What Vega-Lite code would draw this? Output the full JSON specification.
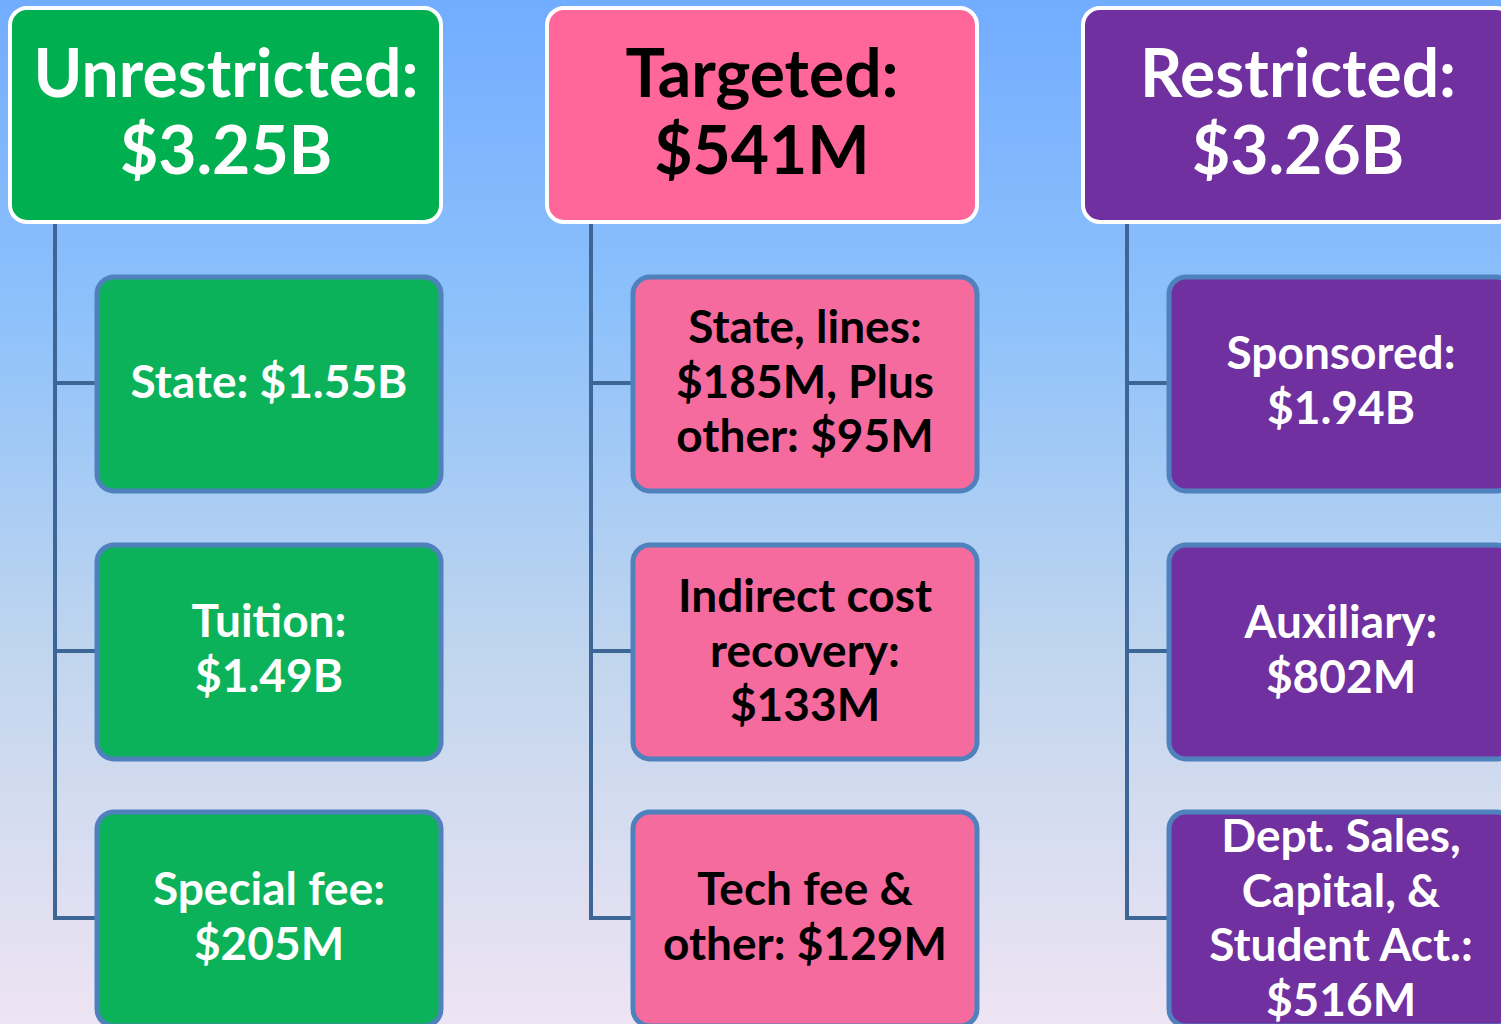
{
  "$schema": "https://vega.github.io/schema/vega-lite/v6.json",
  "width": 1501,
  "height": 1024,
  "autosize": {"type": "fit", "contains": "padding"},
  "padding": 0,
  "background": "#ffffff",
  "config": {"view": {"stroke": null}},
  "datasets": {
    "bg": [{"x0": 0, "x1": 1501, "y0": 0, "y1": 1024}],
    "links": [
      {"x0": 55, "x1": 55, "y0": 222, "y1": 918},
      {"x0": 55, "x1": 97, "y0": 383, "y1": 383},
      {"x0": 55, "x1": 97, "y0": 651, "y1": 651},
      {"x0": 55, "x1": 97, "y0": 918, "y1": 918},
      {"x0": 591, "x1": 591, "y0": 222, "y1": 918},
      {"x0": 591, "x1": 633, "y0": 383, "y1": 383},
      {"x0": 591, "x1": 633, "y0": 651, "y1": 651},
      {"x0": 591, "x1": 633, "y0": 918, "y1": 918},
      {"x0": 1127, "x1": 1127, "y0": 222, "y1": 918},
      {"x0": 1127, "x1": 1169, "y0": 383, "y1": 383},
      {"x0": 1127, "x1": 1169, "y0": 651, "y1": 651},
      {"x0": 1127, "x1": 1169, "y0": 918, "y1": 918}
    ],
    "boxes": [
      {"group": "Unrestricted", "level": "header", "x0": 10, "x1": 441, "y0": 8, "y1": 222},
      {"group": "Targeted", "level": "header", "x0": 547, "x1": 977, "y0": 8, "y1": 222},
      {"group": "Restricted", "level": "header", "x0": 1083, "x1": 1513, "y0": 8, "y1": 222},
      {"group": "Unrestricted", "level": "sub", "x0": 97, "x1": 441, "y0": 277, "y1": 491},
      {"group": "Unrestricted", "level": "sub", "x0": 97, "x1": 441, "y0": 545, "y1": 759},
      {"group": "Unrestricted", "level": "sub", "x0": 97, "x1": 441, "y0": 812, "y1": 1026},
      {"group": "Targeted", "level": "sub", "x0": 633, "x1": 977, "y0": 277, "y1": 491},
      {"group": "Targeted", "level": "sub", "x0": 633, "x1": 977, "y0": 545, "y1": 759},
      {"group": "Targeted", "level": "sub", "x0": 633, "x1": 977, "y0": 812, "y1": 1026},
      {"group": "Restricted", "level": "sub", "x0": 1169, "x1": 1513, "y0": 277, "y1": 491},
      {"group": "Restricted", "level": "sub", "x0": 1169, "x1": 1513, "y0": 545, "y1": 759},
      {"group": "Restricted", "level": "sub", "x0": 1169, "x1": 1513, "y0": 812, "y1": 1026}
    ],
    "labels": [
      {"group": "Unrestricted", "level": "header", "label": "Unrestricted:\n$3.25B", "cx": 226, "ty": 77},
      {"group": "Targeted", "level": "header", "label": "Targeted:\n$541M", "cx": 762, "ty": 77},
      {"group": "Restricted", "level": "header", "label": "Restricted:\n$3.26B", "cx": 1298, "ty": 77},
      {"group": "Unrestricted", "level": "sub", "label": "State: $1.55B", "cx": 269, "ty": 384},
      {"group": "Unrestricted", "level": "sub", "label": "Tuition:\n$1.49B", "cx": 269, "ty": 623},
      {"group": "Unrestricted", "level": "sub", "label": "Special fee:\n$205M", "cx": 269, "ty": 891},
      {"group": "Targeted", "level": "sub", "label": "State, lines:\n$185M, Plus\nother: $95M", "cx": 805, "ty": 329},
      {"group": "Targeted", "level": "sub", "label": "Indirect cost\nrecovery:\n$133M", "cx": 805, "ty": 598},
      {"group": "Targeted", "level": "sub", "label": "Tech fee &\nother: $129M", "cx": 805, "ty": 891},
      {"group": "Restricted", "level": "sub", "label": "Sponsored:\n$1.94B", "cx": 1341, "ty": 355},
      {"group": "Restricted", "level": "sub", "label": "Auxiliary:\n$802M", "cx": 1341, "ty": 624},
      {"group": "Restricted", "level": "sub", "label": "Dept. Sales,\nCapital, &\nStudent Act.:\n$516M", "cx": 1341, "ty": 838}
    ]
  },
  "layer": [
    {
      "data": {"name": "bg"},
      "mark": {
        "type": "rect",
        "fill": {
          "gradient": "linear", "x1": 0, "y1": 0, "x2": 0, "y2": 1,
          "stops": [
            {"offset": 0, "color": "#72ACFF"},
            {"offset": 0.3, "color": "#8DC1FB"},
            {"offset": 0.65, "color": "#C2D6EE"},
            {"offset": 1, "color": "#EEE4F3"}
          ]
        }
      },
      "encoding": {
        "x": {"field": "x0", "type": "quantitative", "scale": {"domain": [0, 1501], "nice": false, "zero": false}, "axis": null},
        "x2": {"field": "x1"},
        "y": {"field": "y0", "type": "quantitative", "scale": {"domain": [0, 1024], "nice": false, "zero": false, "reverse": true}, "axis": null},
        "y2": {"field": "y1"}
      }
    },
    {
      "data": {"name": "links"},
      "mark": {"type": "rule", "color": "#3D6596", "strokeWidth": 4, "strokeCap": "square"},
      "encoding": {
        "x": {"field": "x0", "type": "quantitative", "axis": null},
        "x2": {"field": "x1"},
        "y": {"field": "y0", "type": "quantitative", "axis": null},
        "y2": {"field": "y1"}
      }
    },
    {
      "data": {"name": "boxes"},
      "transform": [{"filter": "datum.level === 'header'"}],
      "mark": {"type": "rect", "cornerRadius": 17, "stroke": "#FFFFFF", "strokeWidth": 4, "clip": true, "fillOpacity": 1},
      "encoding": {
        "x": {"field": "x0", "type": "quantitative", "axis": null},
        "x2": {"field": "x1"},
        "y": {"field": "y0", "type": "quantitative", "axis": null},
        "y2": {"field": "y1"},
        "fill": {"field": "group", "type": "nominal", "legend": null,
          "scale": {"domain": ["Unrestricted", "Targeted", "Restricted"], "range": ["#00AF50", "#FF6699", "#7030A0"]}}
      }
    },
    {
      "data": {"name": "boxes"},
      "transform": [{"filter": "datum.level === 'sub'"}],
      "mark": {"type": "rect", "cornerRadius": 17, "stroke": "#4F81BD", "strokeWidth": 5, "clip": true, "fillOpacity": 1},
      "encoding": {
        "x": {"field": "x0", "type": "quantitative", "axis": null},
        "x2": {"field": "x1"},
        "y": {"field": "y0", "type": "quantitative", "axis": null},
        "y2": {"field": "y1"},
        "stroke": {"field": "group", "type": "nominal", "legend": null,
          "scale": {"domain": ["Unrestricted", "Targeted", "Restricted"], "range": ["#4F81BD", "#4F81BD", "#4F81BD"]}},
        "color": {"field": "group", "type": "nominal", "legend": null,
          "scale": {"domain": ["Unrestricted", "Targeted", "Restricted"], "range": ["#0BB259", "#F56B9E", "#7030A0"]}}
      }
    },
    {
      "data": {"name": "labels"},
      "transform": [{"filter": "datum.level === 'header'"}],
      "mark": {"type": "text", "font": "Lato", "fontWeight": "bold", "fontSize": 66, "lineHeight": 77, "lineBreak": "\n", "align": "center", "baseline": "middle", "clip": true},
      "encoding": {
        "x": {"field": "cx", "type": "quantitative", "axis": null},
        "y": {"field": "ty", "type": "quantitative", "axis": null},
        "text": {"field": "label"},
        "color": {"condition": {"test": "datum.group === 'Targeted'", "value": "#000000"}, "value": "#FFFFFF"}
      }
    },
    {
      "data": {"name": "labels"},
      "transform": [{"filter": "datum.level === 'sub'"}],
      "mark": {"type": "text", "font": "Lato", "fontWeight": "bold", "fontSize": 46, "lineHeight": 54.5, "lineBreak": "\n", "align": "center", "baseline": "middle", "clip": true},
      "encoding": {
        "x": {"field": "cx", "type": "quantitative", "axis": null},
        "y": {"field": "ty", "type": "quantitative", "axis": null},
        "text": {"field": "label"},
        "color": {"condition": {"test": "datum.group === 'Targeted'", "value": "#000000"}, "value": "#FFFFFF"}
      }
    }
  ]
}
